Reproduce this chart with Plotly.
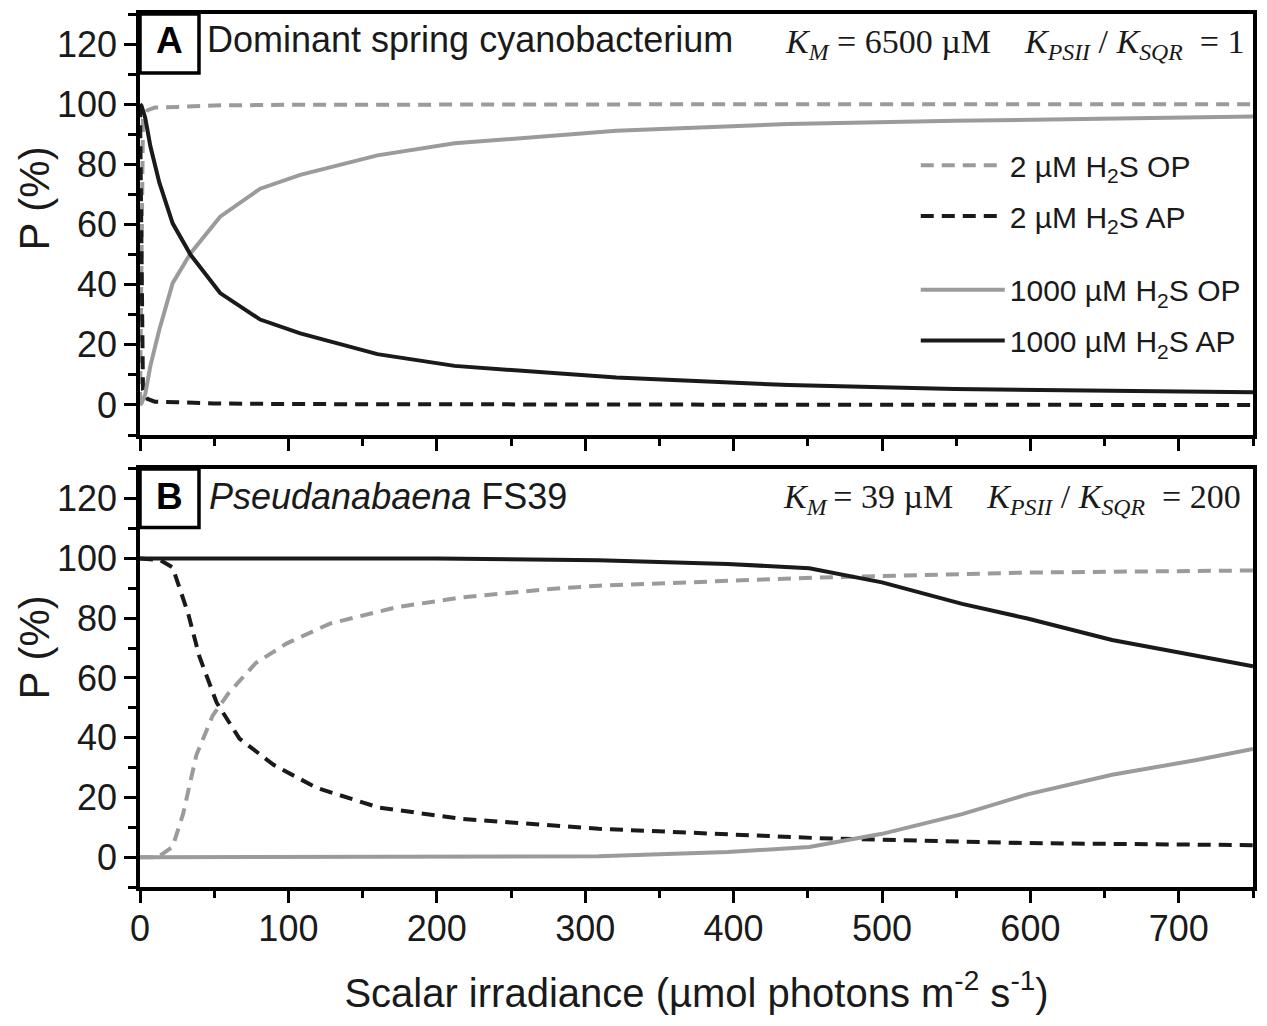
import plotly.graph_objects as go

# ---- data (P in %, x = scalar irradiance) ----
# panel A: dominant spring cyanobacterium, K_M = 6500 uM
a_x_2 = [0, 1, 2, 5, 10, 25, 50, 100, 200, 400, 750]
a_op_2 = [0, 60, 95, 98, 98.9, 99.1, 99.6, 99.8, 99.9, 100, 100]
a_ap_2 = [100, 40, 5, 2, 1.1, 0.9, 0.5, 0.3, 0.2, 0.1, 0]

a_x_1000 = [0, 1, 3.5, 7, 13, 22, 34, 54, 81, 108, 160, 212, 321, 437, 549, 750]
a_op_1000 = [0, 0.5, 3.5, 13, 25, 40.5, 50.4, 62.6, 71.9, 76.5, 83, 87, 91.2, 93.4, 94.5, 95.9]
a_ap_1000 = [100, 99.5, 95.5, 86, 74, 60.4, 50, 37.2, 28.4, 23.8, 16.9, 13, 9.1, 6.6, 5.3, 4.2]

# panel B: Pseudanabaena FS39, K_M = 39 uM
b_x_op2 = [0, 12, 22, 29, 38, 49, 60, 78, 99, 128, 173, 217, 274, 309, 455, 598, 750]
b_op_2 = [0, 0, 3.5, 14.4, 34.2, 47.4, 55.1, 65, 71.6, 78.2, 83.7, 87, 89.7, 90.9, 93.6, 95.3, 96]
b_x_ap2 = [0, 13.5, 22, 32.5, 40, 51.6, 67, 90, 119, 161, 217, 274, 309, 455, 598, 750]
b_ap_2 = [100, 99.5, 97, 81.5, 67.2, 51.8, 39.7, 30.9, 23.2, 16.6, 12.8, 10.6, 9.5, 6.4, 4.7, 4.0]

b_x_1000 = [0, 200, 309, 396, 451, 500, 554, 598, 655, 713, 750]
b_op_1000 = [0, 0, 0.3, 1.7, 3.4, 7.8, 14.4, 21, 27.6, 32.6, 36.2]
b_ap_1000 = [100, 100, 99.4, 98.2, 96.7, 92, 84.8, 79.9, 72.7, 67.2, 63.9]

y_ticks = [0, 20, 40, 60, 80, 100, 120]
x_ticks = [0, 100, 200, 300, 400, 500, 600, 700]

GREY = "#9b9b9b"
BLACK = "#1a1a1a"
DASH = "13px,8px"
SANS = "Liberation Sans, Arial, sans-serif"
SERIF = "Liberation Serif, Times New Roman, serif"

names = [
    "2 µM H<sub>2</sub>S OP",
    "2 µM H<sub>2</sub>S AP",
    "1000 µM H<sub>2</sub>S OP",
    "1000 µM H<sub>2</sub>S AP",
]
styles = [
    dict(color=GREY, width=4, dash=DASH),
    dict(color=BLACK, width=4, dash=DASH),
    dict(color=GREY, width=4),
    dict(color=BLACK, width=4),
]
legend_ids = ["legend", "legend2", "legend3", "legend4"]

fig = go.Figure()

panel_a = [(a_x_2, a_op_2), (a_x_2, a_ap_2), (a_x_1000, a_op_1000), (a_x_1000, a_ap_1000)]
panel_b = [(b_x_op2, b_op_2), (b_x_ap2, b_ap_2), (b_x_1000, b_op_1000), (b_x_1000, b_ap_1000)]

for i, (xs, ys) in enumerate(panel_a):
    fig.add_trace(go.Scatter(
        x=xs, y=ys, mode="lines", name=names[i], line=styles[i],
        xaxis="x", yaxis="y", legend=legend_ids[i], showlegend=True,
    ))
for i, (xs, ys) in enumerate(panel_b):
    fig.add_trace(go.Scatter(
        x=xs, y=ys, mode="lines", name=names[i], line=styles[i],
        xaxis="x2", yaxis="y2", showlegend=False,
    ))

axis_common = dict(
    showline=True, linecolor="black", linewidth=3.5, mirror=True,
    showgrid=False, zeroline=False,
    ticks="outside", ticklen=12, tickwidth=3, tickcolor="black",
    tickfont=dict(family=SANS, size=36, color="#1a1a1a"),
)
x_common = dict(axis_common, range=[0, 750], tickvals=x_ticks, ticklabelstandoff=-5,
                minor=dict(dtick=50, tick0=0, ticks="outside", ticklen=7,
                           tickwidth=3, tickcolor="black"))
y_common = dict(axis_common, range=[-10, 130], tickvals=y_ticks,
                minor=dict(dtick=10, tick0=0, ticks="outside", ticklen=8,
                           tickwidth=3, tickcolor="black"))

# the page body adds an 8px margin, so the figure is 16px smaller than the window
fig.update_layout(
    width=1251, height=1010,
    margin=dict(l=132, r=3, t=2, b=131),
    plot_bgcolor="white", paper_bgcolor="white",
    xaxis=dict(x_common, domain=[0, 1], anchor="y", showticklabels=False),
    yaxis=dict(y_common, domain=[0.5177, 1.0], anchor="x"),
    xaxis2=dict(x_common, domain=[0, 1], anchor="y2",
                title=dict(text="Scalar irradiance (µmol photons m<sup>-2</sup> s<sup>-1</sup>)",
                           font=dict(family=SANS, size=40, color="#1a1a1a"), standoff=32)),
    yaxis2=dict(y_common, domain=[0, 0.4789], anchor="x2"),
)

# one legend per entry so the rows sit where the reference has them
legend_y = [0.8267, 0.7685, 0.6842, 0.626]
for lid, ly in zip(legend_ids, legend_y):
    fig.update_layout({lid: dict(
        x=0.697, y=ly, xanchor="left", yanchor="middle",
        bgcolor="rgba(0,0,0,0)", borderwidth=0, itemwidth=84,
        font=dict(family=SANS, size=30, color="#1a1a1a"),
    )})

# panel letter boxes
for yref in ["y domain", "y2 domain"]:
    xref = "x domain" if yref == "y domain" else "x2 domain"
    fig.add_shape(type="rect", xref=xref, yref=yref, x0=0, x1=0.053, y0=0.86, y1=1,
                  line=dict(color="black", width=3.5), fillcolor="white")

letter_font = dict(family=SANS, size=37, color="black")
text_font = dict(family=SANS, size=36, color="#1a1a1a")
k_font = dict(family=SERIF, size=34, color="#1a1a1a")
ytitle_font = dict(family=SANS, size=42, color="#1a1a1a")
nb = "\u00a0"

annots = [
    dict(xref="x domain", yref="y domain", x=0.0265, y=0.937, text="<b>A</b>",
         font=letter_font, xanchor="center", yanchor="middle"),
    dict(xref="x domain", yref="y domain", x=0.058, y=0.94,
         text="Dominant spring cyanobacterium", font=text_font,
         xanchor="left", yanchor="middle"),
    dict(xref="x domain", yref="y domain", x=0.994, y=0.928,
         text="<i>K</i><sub><i>M</i></sub> = 6500 µM" + nb * 4 +
              "<i>K</i><sub><i>PSII</i></sub> / <i>K</i><sub><i>SQR</i></sub>" + nb + " = 1",
         font=k_font, xanchor="right", yanchor="middle"),
    dict(xref="x2 domain", yref="y2 domain", x=0.0265, y=0.933, text="<b>B</b>",
         font=letter_font, xanchor="center", yanchor="middle"),
    dict(xref="x2 domain", yref="y2 domain", x=0.06, y=0.935,
         text="<i>Pseudanabaena</i> FS39", font=text_font,
         xanchor="left", yanchor="middle"),
    dict(xref="x2 domain", yref="y2 domain", x=0.991, y=0.928,
         text="<i>K</i><sub><i>M</i></sub>" + "\u2009" + "= 39 µM" + nb * 4 +
              "<i>K</i><sub><i>PSII</i></sub> / <i>K</i><sub><i>SQR</i></sub>" + nb + " = 200",
         font=k_font, xanchor="right", yanchor="middle"),
    # y-axis titles, placed where the reference puts them
    dict(xref="paper", yref="paper", x=-0.1178, y=0.789, text="P (%)", textangle=-90,
         font=ytitle_font, xanchor="left", yanchor="middle"),
    dict(xref="paper", yref="paper", x=-0.1178, y=0.2748, text="P (%)", textangle=-90,
         font=ytitle_font, xanchor="left", yanchor="middle"),
]
for a in annots:
    fig.add_annotation(showarrow=False, **a)

fig.write_html("out.html")
